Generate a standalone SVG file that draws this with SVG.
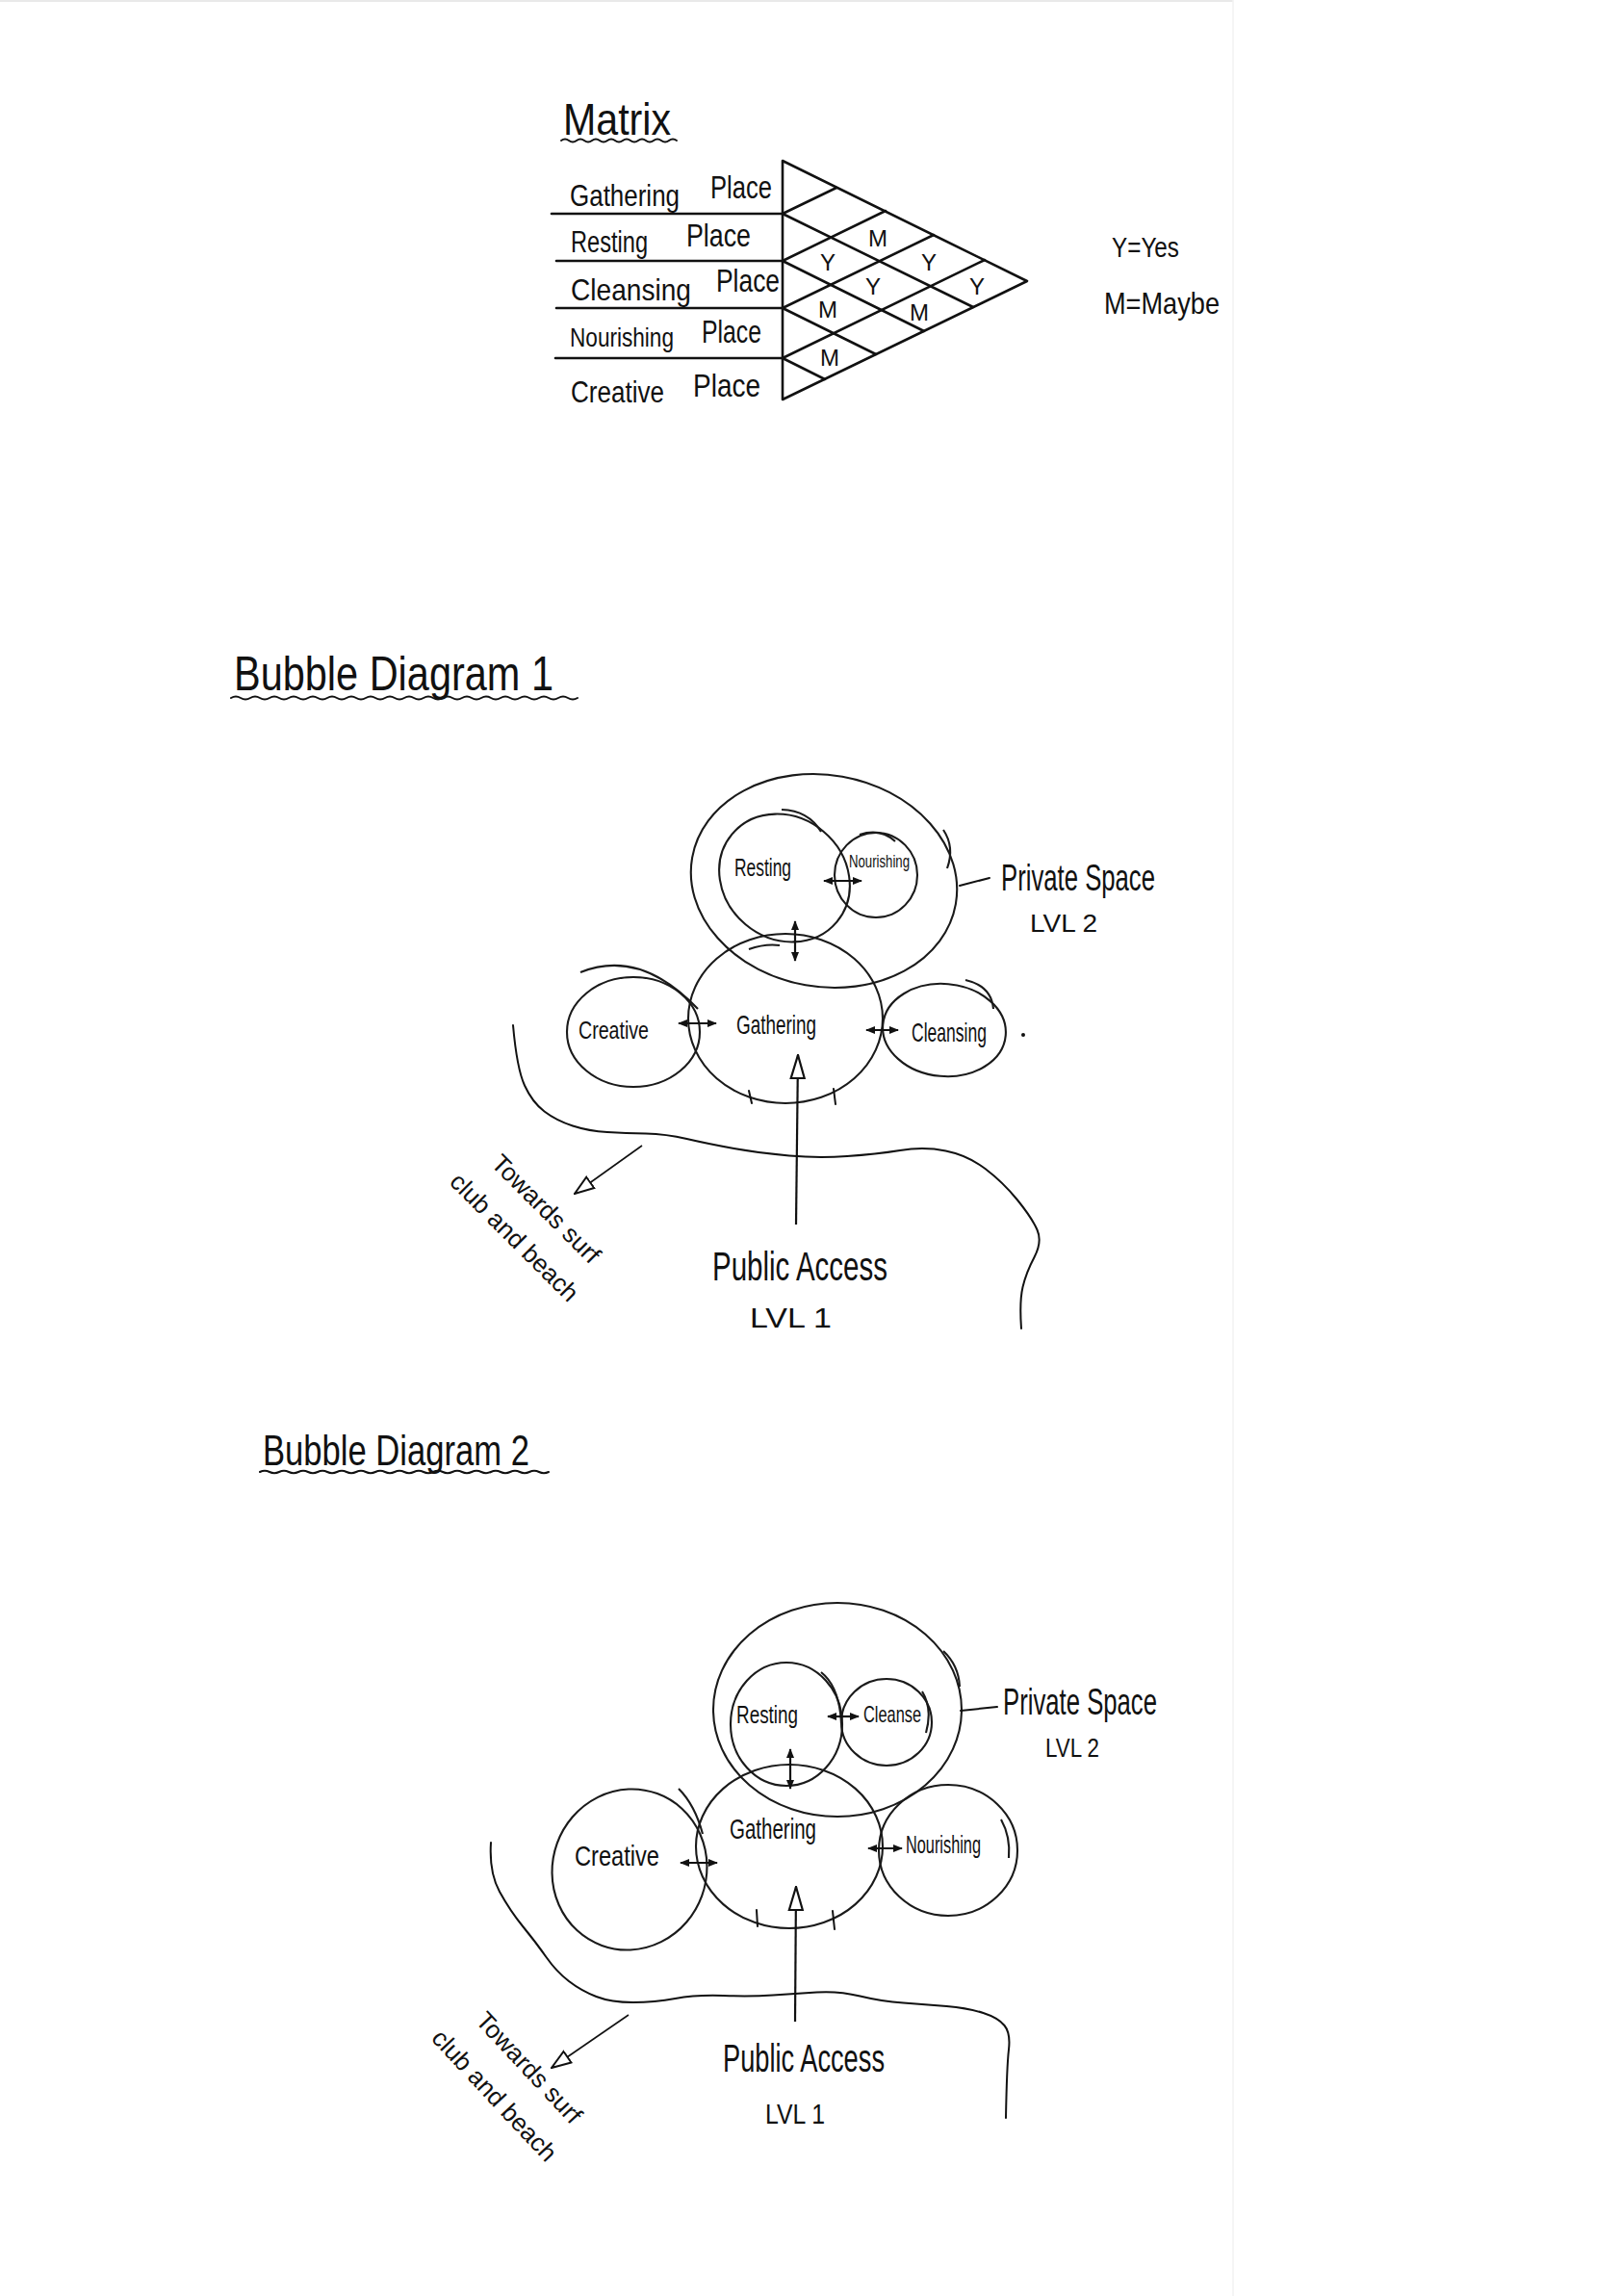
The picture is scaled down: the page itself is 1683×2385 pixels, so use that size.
<svg xmlns="http://www.w3.org/2000/svg" width="1683" height="2385" viewBox="0 0 1683 2385">
<style>
.hw{font-family:"Liberation Sans",Arial,sans-serif;fill:#111}
.ln{stroke:#111;stroke-width:2.6;fill:none;stroke-linecap:round;stroke-linejoin:round}
.thin{stroke:#111;stroke-width:2;fill:none;stroke-linecap:round}
.bub{stroke:#1a1a1a;stroke-width:2.1;fill:none}
.ar{stroke:#111;stroke-width:2.2;fill:none;marker-start:url(#ah);marker-end:url(#ah)}
.pa{stroke:#111;stroke-width:2.2;fill:none;marker-end:url(#oh)}
.ta{stroke:#111;stroke-width:1.6;fill:none;marker-end:url(#oh2)}
</style>
<defs>
<marker id="ah" viewBox="0 0 10 10" refX="9" refY="5" markerWidth="10" markerHeight="10" markerUnits="userSpaceOnUse" orient="auto-start-reverse"><path d="M0,1 L10,5 L0,9 Z" fill="#111"/></marker>
<marker id="oh" viewBox="0 0 26 20" refX="25" refY="10" markerWidth="26" markerHeight="20" markerUnits="userSpaceOnUse" orient="auto"><path d="M1,3 L25,10 L1,17 Z" fill="#fff" stroke="#111" stroke-width="2.2"/></marker>
<marker id="oh2" viewBox="0 0 22 18" refX="21" refY="9" markerWidth="22" markerHeight="18" markerUnits="userSpaceOnUse" orient="auto"><path d="M1,2 L21,9 L1,16 Z" fill="#fff" stroke="#111" stroke-width="2"/></marker>
</defs>
<rect width="1683" height="2385" fill="#fff"/>
<line x1="0" y1="1" x2="1281" y2="1" stroke="#e2e2e2" stroke-width="1.5"/>
<line x1="1281" y1="0" x2="1281" y2="2385" stroke="#f2f2f2" stroke-width="1.5"/>

<!-- MATRIX -->
<g id="matrix-title">
<text class="hw" x="585" y="140" font-size="46" textLength="112" lengthAdjust="spacingAndGlyphs">Matrix</text>
<path class="thin" d="M583,146 q4,-3 8,0 t8,0 t8,0 t8,0 t8,0 t8,0 t8,0 t8,0 t8,0 t8,0 t8,0 t8,0 t8,0 t8,0 t8,0"/>
</g>
<g id="matrix">
<polygon class="ln" points="813,167 1067,292 813,415"/>
<line class="ln" x1="573" y1="222" x2="813" y2="222"/>
<line class="ln" x1="578" y1="271" x2="813" y2="271"/>
<line class="ln" x1="578" y1="320" x2="813" y2="320"/>
<line class="ln" x1="577" y1="372" x2="813" y2="372"/>
<line class="ln" x1="813" y1="222" x2="869" y2="195"/>
<line class="ln" x1="813" y1="271" x2="920" y2="219"/>
<line class="ln" x1="813" y1="320" x2="970" y2="244"/>
<line class="ln" x1="813" y1="372" x2="1023" y2="270"/>
<line class="ln" x1="813" y1="222" x2="1011" y2="319"/>
<line class="ln" x1="813" y1="271" x2="960" y2="344"/>
<line class="ln" x1="813" y1="320" x2="910" y2="368"/>
<line class="ln" x1="813" y1="372" x2="857" y2="394"/>
<g class="hw" font-size="24" text-anchor="middle">
<text x="912" y="256">M</text>
<text x="860" y="281">Y</text>
<text x="965" y="281">Y</text>
<text x="907" y="306">Y</text>
<text x="1015" y="306">Y</text>
<text x="860" y="330">M</text>
<text x="955" y="333">M</text>
<text x="862" y="380">M</text>
</g>
</g>
<g id="row-gathering"><text class="hw" x="592" y="214" font-size="32" textLength="114" lengthAdjust="spacingAndGlyphs">Gathering</text><text class="hw" x="738" y="206" font-size="34" textLength="64" lengthAdjust="spacingAndGlyphs">Place</text></g>
<g id="row-resting"><text class="hw" x="593" y="262" font-size="31" textLength="80" lengthAdjust="spacingAndGlyphs">Resting</text><text class="hw" x="713" y="256" font-size="33" textLength="67" lengthAdjust="spacingAndGlyphs">Place</text></g>
<g id="row-cleansing"><text class="hw" x="593" y="312" font-size="32" textLength="125" lengthAdjust="spacingAndGlyphs">Cleansing</text><text class="hw" x="744" y="303" font-size="33" textLength="66" lengthAdjust="spacingAndGlyphs">Place</text></g>
<g id="row-nourishing"><text class="hw" x="592" y="360" font-size="27" textLength="108" lengthAdjust="spacingAndGlyphs">Nourishing</text><text class="hw" x="729" y="356" font-size="33" textLength="62" lengthAdjust="spacingAndGlyphs">Place</text></g>
<g id="row-creative"><text class="hw" x="593" y="418" font-size="31" textLength="97" lengthAdjust="spacingAndGlyphs">Creative</text><text class="hw" x="720" y="412" font-size="33" textLength="70" lengthAdjust="spacingAndGlyphs">Place</text></g>
<g id="legend">
<text class="hw" x="1155" y="267" font-size="30" textLength="70" lengthAdjust="spacingAndGlyphs">Y=Yes</text>
<text class="hw" x="1147" y="326" font-size="32" textLength="120" lengthAdjust="spacingAndGlyphs">M=Maybe</text>
</g>

<!-- BUBBLE DIAGRAM 1 -->
<g id="bd1-title">
<text class="hw" x="243" y="717" font-size="50" textLength="332" lengthAdjust="spacingAndGlyphs">Bubble Diagram 1</text>
<path class="thin" d="M240,725 q5,-3 10,0 t10,0 t10,0 t10,0 t10,0 t10,0 t10,0 t10,0 t10,0 t10,0 t10,0 t10,0 t10,0 t10,0 t10,0 t10,0 t10,0 t10,0 t10,0 t10,0 t10,0 t10,0 t10,0 t10,0 t10,0 t10,0 t10,0 t10,0 t10,0 t10,0 t10,0 t10,0 t10,0 t10,0 t10,0 t10,0"/>
</g>
<g id="bd1-private">
<ellipse class="bub" cx="856" cy="915" rx="139" ry="110" transform="rotate(10 856 915)"/>
<path class="bub" d="M980,862 Q992,880 984,902"/>
<text class="hw" x="1040" y="925" font-size="38" textLength="160" lengthAdjust="spacingAndGlyphs">Private Space</text>
<text class="hw" x="1070" y="968" font-size="26" textLength="70" lengthAdjust="spacingAndGlyphs">LVL 2</text>
</g>
<g id="bd1-resting">
<ellipse class="bub" cx="815" cy="912" rx="71" ry="63" transform="rotate(40 815 912)"/>
<path class="bub" d="M812,841 Q840,842 853,864"/>
<text class="hw" x="763" y="910" font-size="26" textLength="59" lengthAdjust="spacingAndGlyphs">Resting</text>
</g>
<g id="bd1-nourishing">
<ellipse class="bub" cx="910" cy="909" rx="43" ry="44"/>
<path class="bub" d="M893,867 Q915,860 930,874"/>
<text class="hw" x="882" y="901" font-size="18" textLength="63" lengthAdjust="spacingAndGlyphs">Nourishing</text>
</g>
<g id="bd1-gathering">
<ellipse class="bub" cx="816" cy="1058" rx="101" ry="88"/>
<path class="bub" d="M778,986 Q795,980 810,982"/>
<text class="hw" x="765" y="1074" font-size="28" textLength="83" lengthAdjust="spacingAndGlyphs">Gathering</text>
</g>
<g id="bd1-creative">
<ellipse class="bub" cx="658" cy="1072" rx="69" ry="57"/>
<path class="bub" d="M603,1010 Q665,985 725,1048"/>
<text class="hw" x="601" y="1079" font-size="26" textLength="73" lengthAdjust="spacingAndGlyphs">Creative</text>
</g>
<g id="bd1-cleansing">
<ellipse class="bub" cx="981" cy="1070" rx="64" ry="48" transform="rotate(5 981 1070)"/>
<path class="bub" d="M1003,1018 Q1030,1024 1032,1048"/>
<text class="hw" x="947" y="1082" font-size="28" textLength="78" lengthAdjust="spacingAndGlyphs">Cleansing</text>
</g>
<g id="bd1-public">
<text class="hw" x="740" y="1330" font-size="42" textLength="182" lengthAdjust="spacingAndGlyphs">Public Access</text>
<text class="hw" x="779" y="1379" font-size="30" textLength="85" lengthAdjust="spacingAndGlyphs">LVL 1</text>
</g>
<g id="bd1-towards" transform="translate(509 1210) rotate(45)">
<text class="hw" x="0" y="0" font-size="26">Towards surf</text>
<text class="hw" x="-17" y="44" font-size="26">club and beach</text>
</g>
<g id="bd1-coast">
<path class="thin" d="M533,1065 Q537,1110 545,1127.5 Q553,1145 565.5,1154.5 Q578,1164 595,1169.5 Q612,1175 631,1176 Q650,1177 671,1177.5 Q692,1178 713.5,1183 Q735,1188 762.5,1193 Q790,1198 820,1200.5 Q850,1203 880,1201 Q910,1199 935,1195 Q960,1191 982.5,1195.5 Q1005,1200 1023.5,1214 Q1042,1228 1057,1246.5 Q1072,1265 1077.5,1277.5 Q1083,1290 1074.5,1306 Q1066,1322 1062.5,1337 Q1059,1352 1061,1380"/>
<circle cx="1063" cy="1075" r="2" fill="#111"/>
</g>
<g id="bd1-connectors">
<line class="ar" x1="856" y1="915" x2="895" y2="915"/>
<line class="ar" x1="826" y1="957" x2="826" y2="998"/>
<line class="ar" x1="705" y1="1063" x2="744" y2="1063"/>
<line class="ar" x1="900" y1="1070" x2="933" y2="1070"/>
<line class="pa" x1="827" y1="1272" x2="829" y2="1096"/>
<path class="thin" d="M778,1133 L781,1146 M866,1131 L868,1147"/>
<line class="thin" x1="997" y1="920" x2="1028" y2="912"/>
<line class="ta" x1="667" y1="1190" x2="597" y2="1240"/>
</g>

<!-- BUBBLE DIAGRAM 2 -->
<g id="bd2-title">
<text class="hw" x="273" y="1522" font-size="44" textLength="277" lengthAdjust="spacingAndGlyphs">Bubble Diagram 2</text>
<path class="thin" d="M270,1529 q5,-2.5 10,0 t10,0 t10,0 t10,0 t10,0 t10,0 t10,0 t10,0 t10,0 t10,0 t10,0 t10,0 t10,0 t10,0 t10,0 t10,0 t10,0 t10,0 t10,0 t10,0 t10,0 t10,0 t10,0 t10,0 t10,0 t10,0 t10,0 t10,0 t10,0 t10,0"/>
</g>
<g id="bd2-private">
<ellipse class="bub" cx="870" cy="1776" rx="129" ry="111"/>
<path class="bub" d="M980,1715 Q996,1730 997,1752"/>
<text class="hw" x="1042" y="1781" font-size="38" textLength="160" lengthAdjust="spacingAndGlyphs">Private Space</text>
<text class="hw" x="1086" y="1825" font-size="28" textLength="56" lengthAdjust="spacingAndGlyphs">LVL 2</text>
</g>
<g id="bd2-resting">
<ellipse class="bub" cx="817" cy="1791" rx="58" ry="64"/>
<path class="bub" d="M853,1737 Q872,1752 874,1790"/>
<text class="hw" x="765" y="1790" font-size="26" textLength="64" lengthAdjust="spacingAndGlyphs">Resting</text>
</g>
<g id="bd2-cleanse">
<ellipse class="bub" cx="921" cy="1789" rx="47" ry="45"/>
<path class="bub" d="M958,1757 Q969,1775 962,1800"/>
<text class="hw" x="897" y="1789" font-size="24" textLength="60" lengthAdjust="spacingAndGlyphs">Cleanse</text>
</g>
<g id="bd2-gathering">
<ellipse class="bub" cx="820" cy="1918" rx="97" ry="85"/>
<path class="bub" d="M705,1858 Q722,1875 730,1905"/>
<text class="hw" x="758" y="1910" font-size="30" textLength="90" lengthAdjust="spacingAndGlyphs">Gathering</text>
</g>
<g id="bd2-creative">
<ellipse class="bub" cx="654" cy="1942" rx="80" ry="84" transform="rotate(20 654 1942)"/>
<text class="hw" x="597" y="1938" font-size="30" textLength="88" lengthAdjust="spacingAndGlyphs">Creative</text>
</g>
<g id="bd2-nourishing">
<ellipse class="bub" cx="985" cy="1922" rx="72" ry="68"/>
<path class="bub" d="M1040,1890 Q1050,1908 1048,1930"/>
<text class="hw" x="941" y="1925" font-size="26" textLength="78" lengthAdjust="spacingAndGlyphs">Nourishing</text>
</g>
<g id="bd2-public">
<text class="hw" x="751" y="2152" font-size="40" textLength="168" lengthAdjust="spacingAndGlyphs">Public Access</text>
<text class="hw" x="795" y="2206" font-size="30" textLength="62" lengthAdjust="spacingAndGlyphs">LVL 1</text>
</g>
<g id="bd2-towards" transform="translate(493 2100) rotate(47)">
<text class="hw" x="0" y="0" font-size="26">Towards surf</text>
<text class="hw" x="-18" y="46" font-size="26">club and beach</text>
</g>
<g id="bd2-coast">
<path class="thin" d="M510,1914 Q508,1945 519,1965 Q530,1985 543.5,2001.5 Q557,2018 567.5,2033 Q578,2048 591,2058 Q604,2068 619.5,2074 Q635,2080 657.5,2080 Q680,2080 701.5,2076 Q723,2072 751.5,2073 Q780,2074 803,2072.5 Q826,2071 848.5,2069.5 Q871,2068 893.5,2073.5 Q916,2079 938.5,2080.5 Q961,2082 983.5,2084 Q1006,2086 1021.5,2091 Q1037,2096 1043.5,2104 Q1050,2112 1048,2129 Q1046,2146 1045,2200"/>
</g>
<g id="bd2-connectors">
<line class="ar" x1="860" y1="1783" x2="892" y2="1783"/>
<line class="ar" x1="821" y1="1817" x2="821" y2="1858"/>
<line class="ar" x1="707" y1="1935" x2="745" y2="1935"/>
<line class="ar" x1="902" y1="1920" x2="937" y2="1920"/>
<line class="pa" x1="826" y1="2100" x2="827" y2="1960"/>
<path class="thin" d="M786,1984 L787,2001 M865,1985 L867,2004"/>
<line class="thin" x1="998" y1="1777" x2="1036" y2="1773"/>
<line class="ta" x1="653" y1="2093" x2="573" y2="2148"/>
</g>
</svg>
